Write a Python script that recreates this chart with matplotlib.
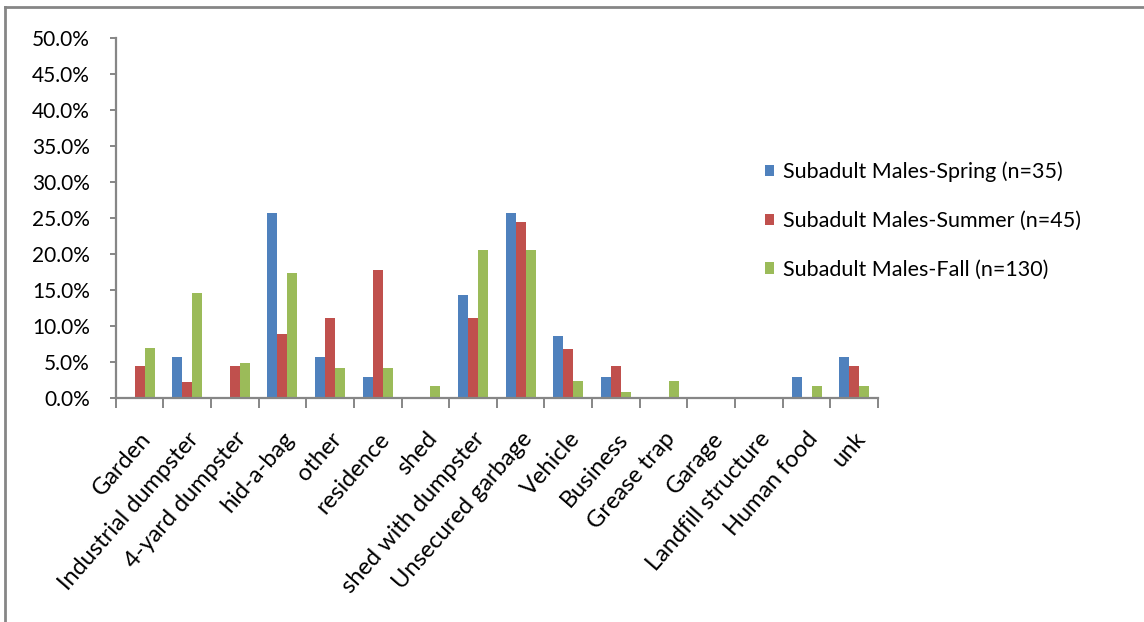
import matplotlib
matplotlib.use("Agg")
import matplotlib.pyplot as plt
import numpy as np
from matplotlib.lines import Line2D
from matplotlib.ticker import PercentFormatter

# Lugares donde se encontraron machos subadultos, por estación (% de casos)
lugares = ["Garden", "Industrial dumpster", "4-yard dumpster", "hid-a-bag", "other",
           "residence", "shed", "shed with dumpster", "Unsecured garbage", "Vehicle",
           "Business", "Grease trap", "Garage", "Landfill structure", "Human food", "unk"]
primavera = [0.0, 5.7, 0.0, 25.7, 5.7, 2.9, 0.0, 14.3, 25.7, 8.6, 2.9, 0.0, 0.0, 0.0, 2.9, 5.7]
verano = [4.4, 2.2, 4.4, 8.9, 11.1, 17.8, 0.0, 11.1, 24.4, 6.7, 4.4, 0.0, 0.0, 0.0, 0.0, 4.4]
otono = [6.9, 14.6, 4.8, 17.3, 4.1, 4.1, 1.6, 20.5, 20.5, 2.3, 0.8, 2.3, 0.0, 0.0, 1.6, 1.6]
series = ["Subadult Males-Spring (n=35)", "Subadult Males-Summer (n=45)", "Subadult Males-Fall (n=130)"]

colores = ["#4F81BD", "#C0504D", "#9BBB59"]
gris = "#868686"

plt.rcParams["font.family"] = ["Lato", "DejaVu Sans"]

fig = plt.figure(figsize=(11.44, 6.22), dpi=100)
ax = fig.add_axes([115.7 / 1144, 1 - 397.7 / 622, (878 - 115.7) / 1144, 360 / 622])

x = np.arange(len(lugares))
w = 0.21
for i, (vals, col, nombre) in enumerate(zip([primavera, verano, otono], colores, series)):
    ax.bar(x + (i - 1) * w, vals, width=w, color=col, label=nombre)

ax.set_xlim(-0.5, len(lugares) - 0.5)
ax.set_ylim(0, 50)
ax.set_yticks(np.arange(0, 50.1, 5))
ax.yaxis.set_major_formatter(PercentFormatter(decimals=1))

ax.set_xticks(x)
ax.set_xticklabels(lugares, rotation=49, ha="right", rotation_mode="anchor", fontsize=17)
ax.set_xticks(np.arange(-0.5, len(lugares)), minor=True)
ax.tick_params(axis="x", which="major", length=0, pad=22)
ax.tick_params(axis="x", which="minor", length=7, width=1.4, color=gris, direction="out")
ax.tick_params(axis="y", length=4.5, width=1.4, color=gris, labelsize=15, pad=14)

for lado in ["top", "right"]:
    ax.spines[lado].set_visible(False)
for lado in ["left", "bottom"]:
    ax.spines[lado].set_color(gris)
    ax.spines[lado].set_linewidth(1.6)

fig.legend(loc="upper left", bbox_to_anchor=(754 / 1144, 1 - 151 / 622), frameon=False,
           fontsize=15.5, handlelength=0.45, handleheight=0.45, handletextpad=0.42,
           labelspacing=1.33, borderpad=0)

# Marco del gráfico
fig.add_artist(Line2D([5 / 1144, 5 / 1144], [0, 1 - 7 / 622], color=gris, lw=2, transform=fig.transFigure))
fig.add_artist(Line2D([5 / 1144, 1], [1 - 7 / 622, 1 - 7 / 622], color=gris, lw=2, transform=fig.transFigure))

plt.savefig("out.png", dpi=100)
